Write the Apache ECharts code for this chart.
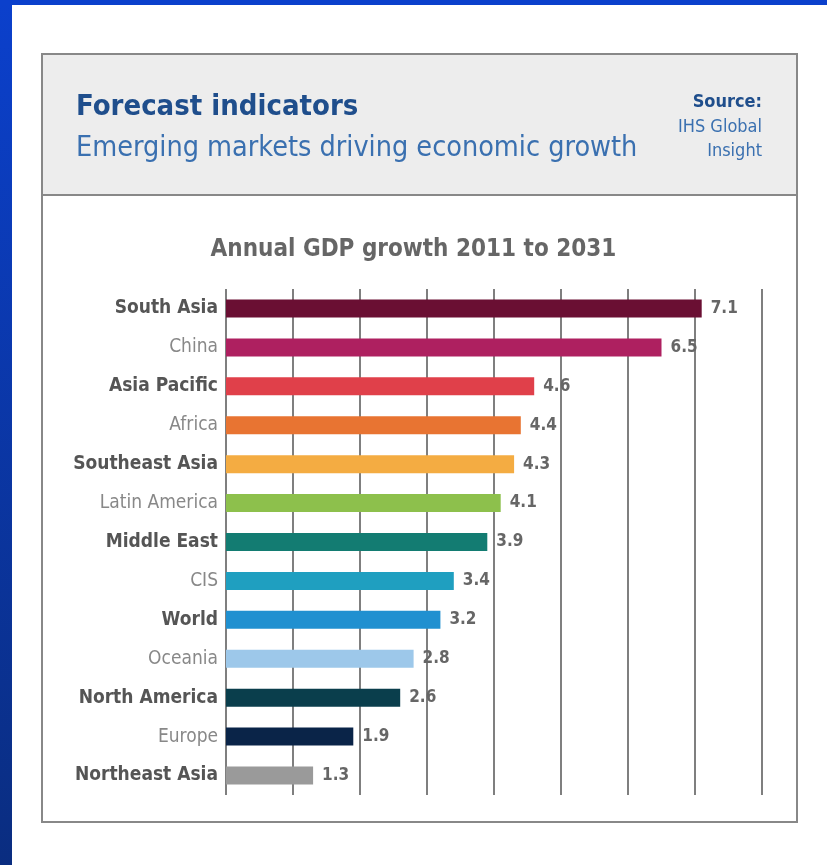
<!DOCTYPE html>
<html><head><meta charset="utf-8">
<script src="https://cdn.jsdelivr.net/npm/echarts@6/dist/echarts.min.js"></script>
<style>html,body{margin:0;padding:0;background:#fff;}#c{width:827px;height:865px;}</style>
</head><body><div id="c"></div>
<script>
const categories = ["South Asia","China","Asia Pacific","Africa","Southeast Asia","Latin America","Middle East","CIS","World","Oceania","North America","Europe","Northeast Asia"];
const values = [7.1,6.5,4.6,4.4,4.3,4.1,3.9,3.4,3.2,2.8,2.6,1.9,1.3];
const barColors = ["#6a0f33","#ae2060","#e0404a","#e87432","#f4ac42","#8dc04c","#137c72","#1f9fc0","#2090d0","#9dc8ea","#0a3e4c","#0a2448","#9a9a9a"];
const boldLabel = [true,false,true,false,true,false,true,false,true,false,true,false,true];

const NARROW = '"Liberation Sans Narrow","DejaVu Sans Condensed",Arial,sans-serif';
const chart = echarts.init(document.getElementById('c'), null, {renderer:'canvas'});
chart.setOption({
  animation:false,
  backgroundColor:'#ffffff',
  graphic:[
    {type:'rect', shape:{x:0,y:0,width:12,height:865}, style:{fill:new echarts.graphic.LinearGradient(0,0,0,1,[{offset:0,color:'#0b40cc'},{offset:1,color:'#0a2d80'}])}, z:-10},
    {type:'rect', shape:{x:0,y:0,width:827,height:5}, style:{fill:'#0b40cc'}, z:-10},
    {type:'rect', shape:{x:42,y:54,width:755,height:141}, style:{fill:'#ededed', stroke:'#888', lineWidth:2}, z:-5},
    {type:'rect', shape:{x:42,y:54,width:755,height:768}, style:{fill:'none', stroke:'#888', lineWidth:2}, z:-4},
    {type:'text', left:76, top:93, style:{text:'Forecast indicators', font:'bold 29px '+NARROW, fill:'#1f4e8c'}},
    {type:'text', left:76, top:134, style:{text:'Emerging markets driving economic growth', font:'28.5px '+NARROW, fill:'#3a70b0'}},
    {type:'text', right:65, top:93, style:{text:'Source:', font:'bold 18px '+NARROW, fill:'#1f4e8c', align:'right'}},
    {type:'text', right:65, top:118, style:{text:'IHS Global', font:'18px '+NARROW, fill:'#3a70b0', align:'right'}},
    {type:'text', right:65, top:142, style:{text:'Insight', font:'18px '+NARROW, fill:'#3a70b0', align:'right'}}
  ],
  title:{text:'Annual GDP growth 2011 to 2031', left:'center', top:233, textStyle:{fontFamily:NARROW, fontWeight:'bold', fontSize:24, color:'#666'}},
  grid:{left:226, right:65, top:289, height:506, containLabel:false},
  xAxis:{type:'value', min:0, max:8, interval:1, axisLabel:{show:false}, axisLine:{show:false}, axisTick:{show:false},
    splitLine:{show:true, lineStyle:{color:'#555', width:1.5}}},
  yAxis:{type:'category', data:categories, inverse:true, axisLine:{show:false}, axisTick:{show:false},
    axisLabel:{margin:8, formatter:function(v,i){return (boldLabel[i]?'{b|':'{l|')+v+'}';},
      rich:{b:{fontFamily:NARROW, fontWeight:'bold', fontSize:19, color:'#555'}, l:{fontFamily:NARROW, fontSize:19, color:'#888'}}}},
  series:[{type:'bar', barWidth:18,
    data:values.map((v,i)=>({value:v, itemStyle:{color:barColors[i]}})),
    label:{show:true, position:'right', distance:9, fontFamily:NARROW, fontWeight:'bold', fontSize:17, color:'#666'}}]
});
</script></body></html>
